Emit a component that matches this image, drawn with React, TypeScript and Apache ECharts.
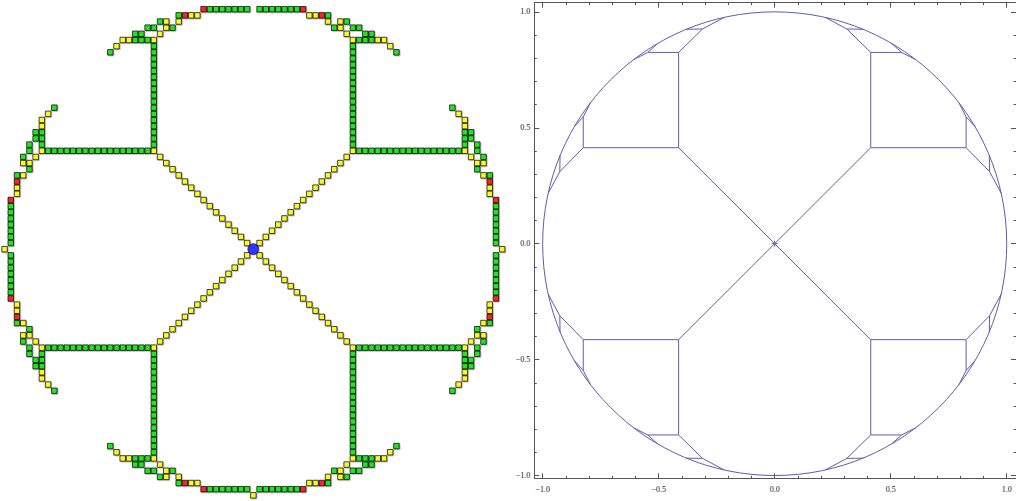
import React, { useEffect, useRef } from "react";
import * as echarts from "echarts";

type P = [number, number];

// ---------- Left panel: coloured cells, one octant (i <= 0, j >= -i), grid units ----------
const diagonalYellow: P[] = [
  [-1, 1], [-2, 2], [-3, 3], [-4, 4], [-5, 5], [-6, 6], [-7, 7], [-8, 8],
  [-9, 9], [-10, 10], [-11, 11], [-12, 12], [-13, 13], [-14, 14], [-15, 15], [-16, 16],
];
const octantGreen: P[] = [
  [-16, 17], [-16, 18], [-16, 19], [-16, 20], [-16, 21], [-16, 22], [-16, 23], [-16, 24],
  [-16, 25], [-16, 26], [-16, 27], [-16, 28], [-16, 29], [-16, 30], [-16, 31], [-16, 32], [-16, 33],
  [-19, 34], [-18, 34], [-17, 34],
  [-23, 32],
  [-19, 35], [-18, 35],
  [-17, 36], [-16, 36], [-13, 36],
  [-15, 37],
  [-12, 38],
  [-7, 39], [-6, 39], [-5, 39], [-4, 39], [-3, 39], [-2, 39], [-1, 39],
];
const octantYellow: P[] = [
  [-16, 34], [-21, 34], [-20, 34],
  [-22, 33],
  [-15, 35],
  [-14, 36],
  [-14, 37], [-12, 37],
  [-10, 38], [-9, 38],
];
const octantRed: P[] = [[-11, 38], [-8, 39]];
const axisTipYellow: P[] = [[-40, 0], [40, 0], [0, -40]];
const centreDot: P[] = [[0, 0]];

// ---------- Right panel: tree inside the unit disk, one octant ----------
const hubEdges: [P, P][] = [[[0, 0], [-0.414, 0.414]]];
const octantEdges: [P, P][] = [
  [[-0.414, 0.414], [-0.414, 0.825]],
  [[-0.414, 0.825], [-0.547, 0.825]],
  [[-0.414, 0.825], [-0.311, 0.926]],
  [[-0.547, 0.825], [-0.608, 0.794]],
  [[-0.547, 0.825], [-0.505, 0.863]],
  [[-0.311, 0.926], [-0.382, 0.925]],
  [[-0.311, 0.926], [-0.218, 0.976]],
];
const starEdges: [P, P][] = [
  [[-0.013, 0], [0.013, 0]],
  [[0, -0.013], [0, 0.013]],
];
const unitCircle = [[0, 0, 1]];
const majorTickValues = [-1, -0.5, 0, 0.5, 1];
const minorTickValues = [
  -0.9, -0.8, -0.7, -0.6, -0.4, -0.3, -0.2, -0.1,
  0.1, 0.2, 0.3, 0.4, 0.6, 0.7, 0.8, 0.9,
];

const symmetries: ((x: number, y: number) => P)[] = [
  (x, y) => [x, y], (x, y) => [-x, y], (x, y) => [x, -y], (x, y) => [-x, -y],
  (x, y) => [y, x], (x, y) => [-y, x], (x, y) => [y, -x], (x, y) => [-y, -x],
];

const norm = (v: number) => (Math.abs(v) < 1e-9 ? 0 : v);

function expandCells(cells: P[]): P[] {
  const m = new Map<string, P>();
  cells.forEach((c) => symmetries.forEach((s) => {
    const p = s(c[0], c[1]).map(norm) as P;
    m.set(p.join(","), p);
  }));
  return Array.from(m.values());
}

function expandEdges(edges: [P, P][]): number[][] {
  const m = new Map<string, number[]>();
  edges.forEach((e) => symmetries.forEach((s) => {
    const a = s(e[0][0], e[0][1]).map(norm) as P;
    const b = s(e[1][0], e[1][1]).map(norm) as P;
    const ka = a.map((v) => v.toFixed(3)).join(",");
    const kb = b.map((v) => v.toFixed(3)).join(",");
    m.set(ka < kb ? ka + "|" + kb : kb + "|" + ka, [a[0], a[1], b[0], b[1]]);
  }));
  return Array.from(m.values());
}

const LINE = "#5d5db0";
const FRAME = "#555555";
const fmt = (v: number) => v.toFixed(1).replace("-", "\u2212");

export default function App() {
  const ref = useRef<HTMLDivElement>(null);
  useEffect(() => {
    if (!ref.current) return;
    const chart = echarts.init(ref.current, undefined, { renderer: "svg" });

    const greens = expandCells(octantGreen);
    const yellows = expandCells([...diagonalYellow, ...octantYellow]).concat(axisTipYellow);
    const reds = expandCells(octantRed);
    const edges = expandEdges([...hubEdges, ...octantEdges]).concat(
      starEdges.map((e) => [e[0][0], e[0][1], e[1][0], e[1][1]])
    );

    const cellStyle = (color: string) => ({
      color,
      borderColor: "#000",
      borderWidth: 0.9,
      shadowColor: "rgba(0,0,0,0.35)",
      shadowBlur: 1.5,
      shadowOffsetX: 0.8,
      shadowOffsetY: 0.8,
    });

    const U = 6.22;
    const CX = 253.35;
    const CY = 246.5;
    const R = 40.5;
    const CELL = 5.5;

    const XMIN = -1.036, XMAX = 1.04, YMIN = -1.012, YMAX = 1.0395;
    const G1 = { left: 534.3, top: 2.7, width: 481.7, height: 475.6 };

    const majorAxis = (gridIndex: number, position: string, labels: boolean, isX: boolean) => ({
      type: "value",
      gridIndex,
      position,
      min: isX ? XMIN : YMIN,
      max: isX ? XMAX : YMAX,
      axisLine: { show: true, onZero: false, lineStyle: { color: FRAME, width: 1 } },
      axisTick: { show: true, inside: true, length: 5, customValues: majorTickValues, lineStyle: { color: FRAME, width: 1 } },
      axisLabel: {
        show: labels,
        customValues: majorTickValues,
        formatter: fmt,
        margin: isX ? 7 : 4,
        fontSize: 8,
        color: "#111",
        fontFamily: "Liberation Serif",
      },
      splitLine: { show: false },
    });
    const minorAxis = (gridIndex: number, position: string, isX: boolean) => ({
      type: "value",
      gridIndex,
      position,
      min: isX ? XMIN : YMIN,
      max: isX ? XMAX : YMAX,
      axisLine: { show: false, onZero: false },
      axisTick: { show: true, inside: true, length: 2.5, customValues: minorTickValues, lineStyle: { color: FRAME, width: 1 } },
      axisLabel: { show: false },
      splitLine: { show: false },
    });

    chart.setOption({
      animation: false,
      backgroundColor: "#ffffff",
      grid: [
        { left: CX - R * U, top: CY - R * U, width: 2 * R * U, height: 2 * R * U },
        G1,
        G1,
      ],
      xAxis: [
        { type: "value", gridIndex: 0, min: -R, max: R, show: false },
        majorAxis(1, "bottom", true, true),
        majorAxis(1, "top", false, true),
        minorAxis(2, "bottom", true),
        minorAxis(2, "top", true),
      ],
      yAxis: [
        { type: "value", gridIndex: 0, min: -R, max: R, show: false },
        majorAxis(1, "left", true, false),
        majorAxis(1, "right", false, false),
        minorAxis(2, "left", false),
        minorAxis(2, "right", false),
      ],
      series: [
        { type: "scatter", xAxisIndex: 0, yAxisIndex: 0, symbol: "rect", symbolSize: CELL, data: greens, itemStyle: cellStyle("#00e400"), silent: true },
        { type: "scatter", xAxisIndex: 0, yAxisIndex: 0, symbol: "rect", symbolSize: CELL, data: yellows, itemStyle: cellStyle("#ffff00"), silent: true },
        { type: "scatter", xAxisIndex: 0, yAxisIndex: 0, symbol: "rect", symbolSize: CELL, data: reds, itemStyle: cellStyle("#ff0000"), silent: true },
        {
          type: "scatter", xAxisIndex: 0, yAxisIndex: 0, symbol: "circle", symbolSize: 11, data: centreDot, z: 5,
          itemStyle: { color: "#0000ff", borderColor: "#000060", borderWidth: 0.8 }, silent: true,
        },
        {
          type: "custom", xAxisIndex: 1, yAxisIndex: 1, data: unitCircle, silent: true,
          renderItem: (_params: any, api: any) => {
            const c = api.coord([api.value(0), api.value(1)]);
            const s = api.size([api.value(2), api.value(2)]);
            return {
              type: "ellipse",
              shape: { cx: c[0], cy: c[1], rx: s[0], ry: s[1] },
              style: { fill: "none", stroke: LINE, lineWidth: 1 },
            };
          },
        },
        {
          type: "custom", xAxisIndex: 1, yAxisIndex: 1, data: edges, silent: true,
          encode: { x: [0, 2], y: [1, 3] },
          renderItem: (_params: any, api: any) => {
            const a = api.coord([api.value(0), api.value(1)]);
            const b = api.coord([api.value(2), api.value(3)]);
            return {
              type: "line",
              shape: { x1: a[0], y1: a[1], x2: b[0], y2: b[1] },
              style: { stroke: LINE, lineWidth: 1, fill: "none" },
            };
          },
        },
      ],
    });
    return () => chart.dispose();
  }, []);
  return (
    <div
      ref={ref}
      style={{ position: "fixed", left: 0, top: 0, width: 1016, height: 501, background: "#fff" }}
    />
  );
}
